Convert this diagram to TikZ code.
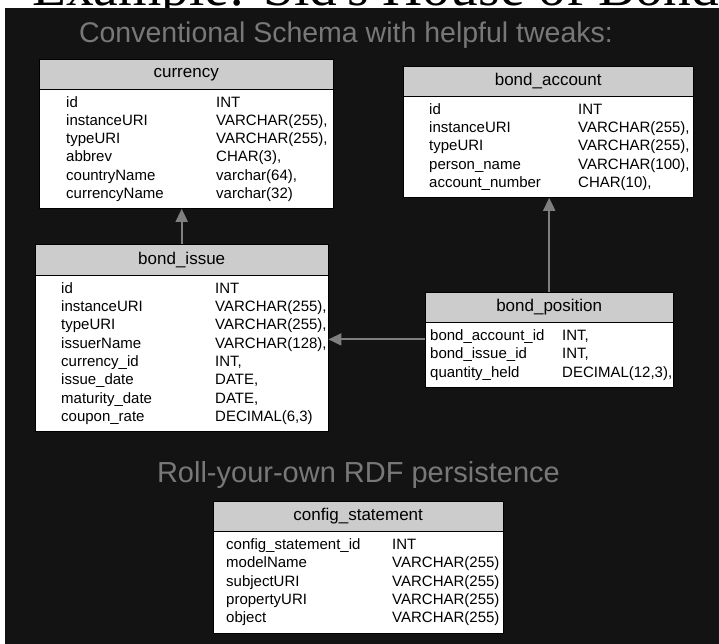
\documentclass[tikz,border=0pt]{standalone}
\usepackage{fontspec}
\setmainfont{Liberation Sans}
\newfontfamily\serifhead{Liberation Serif}
\usetikzlibrary{positioning,arrows.meta,calc}
\definecolor{panel}{HTML}{131313}
\definecolor{hdrgray}{HTML}{CCCCCC}
\definecolor{titlegray}{HTML}{787878}
\definecolor{linkgray}{HTML}{7F7F7F}
\tikzset{
  tblhead/.style={draw=black, fill=hdrgray, minimum height=30pt, inner sep=0pt,
    anchor=north west, font=\fontsize{17}{20}\selectfont},
  tblbody/.style={draw=black, fill=white, inner ysep=0pt, anchor=north, align=left,
    font=\fontsize{15}{18.3}\selectfont},
  link/.style={draw=linkgray, line width=2pt, -{Triangle[width=12pt,length=13pt]}},
  heading/.style={text=titlegray, anchor=base, font=\fontsize{28.5}{34}\selectfont}
}
\begin{document}
\begin{tikzpicture}[x=1pt,y=-1pt]
        \clip (0,0) rectangle (719,644);
        \node[anchor=base west, inner sep=0pt, font=\serifhead\fontsize{55.5}{60}\selectfont] (maintitle) at (32,5.5) {Example: Sid's House of Bonds};
        \fill[panel] (5,8) rectangle (719,644);
        \node[heading] (conventional) at (346,43) {Conventional Schema with helpful tweaks:};
        \node[heading, font=\fontsize{29}{34}\selectfont] (rollown) at (358.5,482) {Roll-your-own RDF persistence};

        \node[tblhead, minimum width=294pt] (currency) at (39,59) {currency};
        \node[tblbody, inner xsep=27pt, text width=240pt, minimum height=119pt] (currency_body) at (currency.south) {%
          \begin{tabular}{@{}p{150pt}@{}l@{}}
            id & INT\\ instanceURI & VARCHAR(255),\\ typeURI & VARCHAR(255),\\
            abbrev & CHAR(3),\\ countryName & varchar(64),\\ currencyName & varchar(32)
          \end{tabular}};

        \node[tblhead, minimum width=290pt] (bond_account) at (403,66) {bond\_account};
        \node[tblbody, inner xsep=26pt, text width=238pt, minimum height=101pt] (bond_account_body) at (bond_account.south) {%
          \begin{tabular}{@{}p{149pt}@{}l@{}}
            id & INT\\ instanceURI & VARCHAR(255),\\ typeURI & VARCHAR(255),\\
            person\_name & VARCHAR(100),\\ account\_number & CHAR(10),
          \end{tabular}};

        \node[tblhead, minimum width=293pt, minimum height=31pt] (bond_issue) at (35,244) {bond\_issue};
        \node[tblbody, inner xsep=26pt, text width=241pt, minimum height=156pt] (bond_issue_body) at (bond_issue.south) {%
          \begin{tabular}{@{}p{154pt}@{}l@{}}
            id & INT\\ instanceURI & VARCHAR(255),\\ typeURI & VARCHAR(255),\\
            issuerName & VARCHAR(128),\\ currency\_id & INT,\\ issue\_date & DATE,\\
            maturity\_date & DATE,\\ coupon\_rate & DECIMAL(6,3)
          \end{tabular}};

        \node[tblhead, minimum width=248pt] (bond_position) at (425,292) {bond\_position};
        \node[tblbody, inner xsep=5pt, text width=238pt, minimum height=65pt] (bond_position_body) at (bond_position.south) {%
          \begin{tabular}{@{}p{132pt}@{}l@{}}
            bond\_account\_id & INT,\\ bond\_issue\_id & INT,\\ quantity\_held & DECIMAL(12,3),
          \end{tabular}};

        \node[tblhead, minimum width=290pt] (config_statement) at (213,501) {config\_statement};
        \node[tblbody, inner xsep=13pt, text width=264pt, minimum height=102pt] (config_statement_body) at (config_statement.south) {%
          \begin{tabular}{@{}p{166pt}@{}l@{}}
            config\_statement\_id & INT\\ modelName & VARCHAR(255)\\ subjectURI & VARCHAR(255)\\
            propertyURI & VARCHAR(255)\\ object & VARCHAR(255)
          \end{tabular}};

        \draw[link] (bond_issue.north) -- (bond_issue.north |- currency_body.south);
        \draw[link] (bond_position.north) -- (bond_position.north |- bond_account_body.south);
        \coordinate (position_out) at ($(bond_position_body.north west)+(0,17)$);
        \draw[link] (position_out) -- (position_out -| bond_issue_body.east);
      \end{tikzpicture}
\end{document}
